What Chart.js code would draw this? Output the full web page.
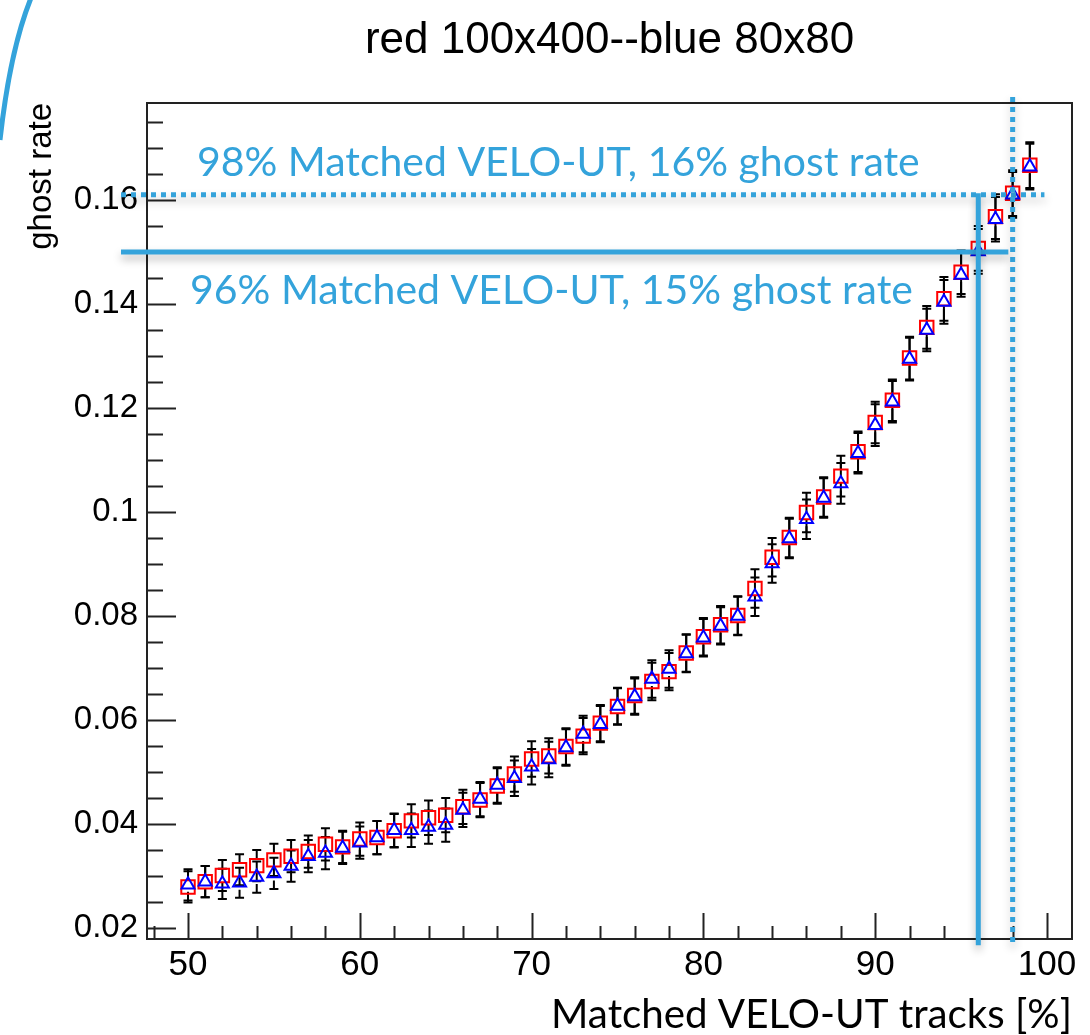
<!DOCTYPE html>
<html><head><meta charset="utf-8">
<script src="https://cdn.jsdelivr.net/npm/chart.js@4.4.1/dist/chart.umd.min.js"></script>
<style>html,body{margin:0;padding:0;background:#fff;overflow:hidden;} #wrap{width:1090px;height:1035px;position:relative;}</style>
</head><body><div id="wrap"><canvas id="c" width="1090" height="1035"></canvas></div>
<script>
// ---------- data ----------
const xValues = [50,51,52,53,54,55,56,57,58,59,60,61,62,63,64,65,66,67,68,69,70,71,72,73,74,75,76,77,78,79,80,81,82,83,84,85,86,87,88,89,90,91,92,93,94,95,96,97,98,99];
const redValues = [0.0279,0.0289,0.0301,0.0312,0.0320,0.0331,0.0338,0.0347,0.0361,0.0356,
  0.0371,0.0374,0.0387,0.0406,0.0412,0.0417,0.0433,0.0446,0.0473,0.0496,
  0.0525,0.0531,0.0549,0.0569,0.0594,0.0626,0.0647,0.0674,0.0693,0.0729,
  0.0760,0.0783,0.0801,0.0853,0.0913,0.0951,0.0999,0.1029,0.1069,0.1116,
  0.1172,0.1215,0.1296,0.1355,0.1410,0.1461,0.1507,0.1568,0.1613,0.1667];
const blueValues = [0.0283,0.0289,0.0285,0.0287,0.0298,0.0305,0.0319,0.0338,0.0344,0.0354,
  0.0364,0.0374,0.0388,0.0388,0.0394,0.0398,0.0427,0.0448,0.0475,0.0488,
  0.0510,0.0524,0.0547,0.0573,0.0592,0.0627,0.0645,0.0679,0.0698,0.0728,
  0.0758,0.0781,0.0800,0.0837,0.0901,0.0949,0.0986,0.1027,0.1055,0.1113,
  0.1167,0.1212,0.1294,0.1350,0.1404,0.1456,0.1501,0.1563,0.1610,0.1664];
const redErrors = [0.0030,0.0030,0.0030,0.0030,0.0030,0.0031,0.0031,0.0031,0.0031,0.0031,
  0.0032,0.0032,0.0032,0.0032,0.0033,0.0033,0.0033,0.0033,0.0034,0.0034,
  0.0034,0.0034,0.0035,0.0035,0.0035,0.0035,0.0035,0.0036,0.0036,0.0036,
  0.0036,0.0036,0.0037,0.0037,0.0037,0.0038,0.0038,0.0038,0.0039,0.0039,
  0.0040,0.0040,0.0041,0.0041,0.0042,0.0042,0.0043,0.0043,0.0044,0.0044];
const blueErrors = [0.0030,0.0030,0.0029,0.0029,0.0030,0.0030,0.0030,0.0031,0.0031,0.0031,
  0.0031,0.0032,0.0032,0.0032,0.0032,0.0032,0.0033,0.0033,0.0034,0.0034,
  0.0034,0.0034,0.0035,0.0035,0.0035,0.0035,0.0035,0.0036,0.0036,0.0036,
  0.0036,0.0036,0.0037,0.0037,0.0037,0.0038,0.0038,0.0038,0.0039,0.0039,
  0.0040,0.0040,0.0041,0.0041,0.0042,0.0042,0.0043,0.0043,0.0044,0.0044];
const xTickValues = [50,60,70,80,90,100];
const xTickLabels = ['50','60','70','80','90','100'];
const yTickValues = [0.02,0.04,0.06,0.08,0.10,0.12,0.14,0.16];
const yTickLabels = ['0.02','0.04','0.06','0.08','0.1','0.12','0.14','0.16'];
const titleText = 'red 100x400--blue 80x80';
const xTitleText = 'Matched VELO-UT tracks [%]';
const yTitleText = 'ghost rate';
const note98 = '98% Matched VELO-UT, 16% ghost rate';
const note96 = '96% Matched VELO-UT, 15% ghost rate';
const mark98 = [98, 0.161];   // matched %, ghost rate
const mark96 = [96, 0.150];

// ---------- styles ----------
const BLUE_NOTE = 'rgb(52,163,219)';
const ROOT_FONT = '"Liberation Sans", Arial, sans-serif';
const NOTE_FONT = 'Lato, "Open Sans", sans-serif';

function fitSize(text, family, targetWidth) {
  const c = document.createElement('canvas').getContext('2d');
  c.font = '100px ' + family;
  return 100 * targetWidth / c.measureText(text).width;
}

const errorBars = {
  id: 'errorBars',
  beforeDatasetsDraw(chart) {
    const {ctx, scales: {x, y}} = chart;
    ctx.save();
    ctx.strokeStyle = '#000';
    ctx.lineWidth = 2;
    const sets = [[redValues, redErrors], [blueValues, blueErrors]];
    const gap = 7, cap = 4.5;
    sets.forEach(([vals, errs]) => {
      vals.forEach((v, i) => {
        const px = x.getPixelForValue(xValues[i]);
        const py = y.getPixelForValue(v);
        const pt = y.getPixelForValue(v + errs[i]);
        const pb = y.getPixelForValue(v - errs[i]);
        ctx.beginPath();
        ctx.moveTo(px, pt); ctx.lineTo(px, Math.min(py - gap, pb));
        ctx.moveTo(px, Math.max(py + gap, pt)); ctx.lineTo(px, pb);
        ctx.moveTo(px - cap, pt); ctx.lineTo(px + cap, pt);
        ctx.moveTo(px - cap, pb); ctx.lineTo(px + cap, pb);
        ctx.stroke();
      });
    });
    ctx.restore();
  }
};

const frameTicks = {
  id: 'frameTicks',
  beforeDatasetsDraw(chart) {
    const {ctx, chartArea: a, scales: {x, y}} = chart;
    ctx.save();
    ctx.strokeStyle = '#222';
    ctx.lineWidth = 2;
    ctx.strokeRect(a.left, a.top, a.right - a.left, a.bottom - a.top);
    ctx.beginPath();
    for (let v = Math.ceil(x.min / 2) * 2; v <= x.max; v += 2) {
      const px = Math.round(x.getPixelForValue(v)) + 0.5;
      const len = (v % 10 === 0) ? 26 : 13;
      ctx.moveTo(px, a.bottom); ctx.lineTo(px, a.bottom - len);
    }
    for (let k = Math.ceil(y.min / 0.005); k * 0.005 <= y.max; k++) {
      const py = Math.round(y.getPixelForValue(k * 0.005)) + 0.5;
      const len = (k % 4 === 0) ? 29 : 16;
      ctx.moveTo(a.left, py); ctx.lineTo(a.left + len, py);
    }
    ctx.stroke();
    ctx.restore();
  }
};

const overlay = {
  id: 'overlay',
  afterDraw(chart) {
    const {ctx, scales: {x, y}} = chart;
    const X = v => x.getPixelForValue(v), Y = v => y.getPixelForValue(v);
    ctx.save();
    ctx.strokeStyle = BLUE_NOTE; ctx.lineWidth = 5;
    ctx.beginPath(); ctx.moveTo(31, -2); ctx.quadraticCurveTo(10, 50, 0, 140); ctx.stroke();

    ctx.shadowColor = 'rgba(0,0,0,0.28)';
    ctx.shadowBlur = 9; ctx.shadowOffsetY = 5;
    ctx.lineCap = 'butt';
    ctx.lineWidth = 5; ctx.setLineDash([5, 5]);
    ctx.beginPath();
    ctx.moveTo(X(46.1), Y(mark98[1])); ctx.lineTo(X(99.85), Y(mark98[1]));
    ctx.stroke();
    ctx.beginPath();
    ctx.moveTo(X(mark98[0]), Y(0.1798)); ctx.lineTo(X(mark98[0]), Y(0.0168));
    ctx.stroke();
    ctx.setLineDash([]); ctx.lineWidth = 5;
    ctx.beginPath();
    ctx.moveTo(X(46.1), Y(mark96[1])); ctx.lineTo(X(97.75), Y(mark96[1]));
    ctx.stroke();
    ctx.beginPath();
    ctx.moveTo(X(mark96[0]), Y(0.1613)); ctx.lineTo(X(mark96[0]), Y(0.0167));
    ctx.stroke();

    ctx.shadowColor = 'transparent';
    ctx.fillStyle = BLUE_NOTE;
    ctx.textBaseline = 'alphabetic'; ctx.textAlign = 'left';
    const s = fitSize(note98, NOTE_FONT, 723);
    ctx.font = s + 'px ' + NOTE_FONT;
    ctx.fillText(note98, X(50.52), Y(0.1646));
    ctx.fillText(note96, X(50.12), Y(0.1400));
    ctx.restore();
  }
};

async function main() {
  try {
    await Promise.all([
      document.fonts.load('40px Lato'),
      document.fonts.load('32px "Liberation Sans"')
    ]);
  } catch (e) {}
  const xTitleSize = fitSize(xTitleText, NOTE_FONT, 521);

  new Chart(document.getElementById('c'), {
    type: 'scatter',
    data: {
      datasets: [
        {
          label: 'blue 80x80',
          data: xValues.map((v, i) => ({x: v, y: blueValues[i]})),
          pointStyle: 'triangle', pointRadius: 7.5, pointHoverRadius: 7.5,
          borderColor: '#0000ff', backgroundColor: 'rgba(0,0,0,0)', pointBorderWidth: 2,
          order: 0
        },
        {
          label: 'red 100x400',
          data: xValues.map((v, i) => ({x: v, y: redValues[i]})),
          pointStyle: 'rect', pointRadius: 9.5, pointHoverRadius: 9.5,
          borderColor: '#ff0000', backgroundColor: 'rgba(0,0,0,0)', pointBorderWidth: 2,
          order: 1
        }
      ]
    },
    options: {
      responsive: false, animation: false, devicePixelRatio: 1,
      layout: {padding: {left: 0, right: 18, top: 0, bottom: 0}},
      plugins: {
        legend: {display: false},
        tooltip: {enabled: false},
        title: {
          display: true, text: titleText, fullSize: false, align: 'center',
          color: '#000', font: {family: ROOT_FONT, size: 44, weight: 'normal', lineHeight: 1},
          padding: {top: 19, bottom: 40}
        }
      },
      scales: {
        x: {
          type: 'linear', position: 'bottom', min: 47.613, max: 101.455,
          afterBuildTicks: s => { s.ticks = xTickValues.map(v => ({value: v})); },
          afterFit: s => { s.height = 96; },
          ticks: {
            autoSkip: false, maxRotation: 0, padding: 5, color: '#000',
            font: {family: ROOT_FONT, size: 35},
            callback: (v, i) => xTickLabels[i]
          },
          grid: {display: false, drawTicks: false},
          border: {display: false},
          title: {
            display: true, text: xTitleText, align: 'end', color: '#000',
            font: {family: NOTE_FONT, size: xTitleSize, lineHeight: 1},
            padding: {top: 0, bottom: 0}
          }
        },
        y: {
          type: 'linear', position: 'left', min: 0.017885, max: 0.178654,
          afterBuildTicks: s => { s.ticks = yTickValues.map(v => ({value: v})); },
          afterFit: s => { s.width = 147; },
          ticks: {
            autoSkip: false, padding: 9, color: '#000',
            font: {family: ROOT_FONT, size: 33},
            callback: (v, i) => yTickLabels[i]
          },
          grid: {display: false, drawTicks: false},
          border: {display: false},
          title: {
            display: true, text: yTitleText, align: 'end', color: '#000',
            font: {family: ROOT_FONT, size: 33, lineHeight: 1},
            padding: {top: 25, bottom: 0}
          }
        }
      }
    },
    plugins: [frameTicks, errorBars, overlay]
  });
}
main();
</script>
</body></html>
